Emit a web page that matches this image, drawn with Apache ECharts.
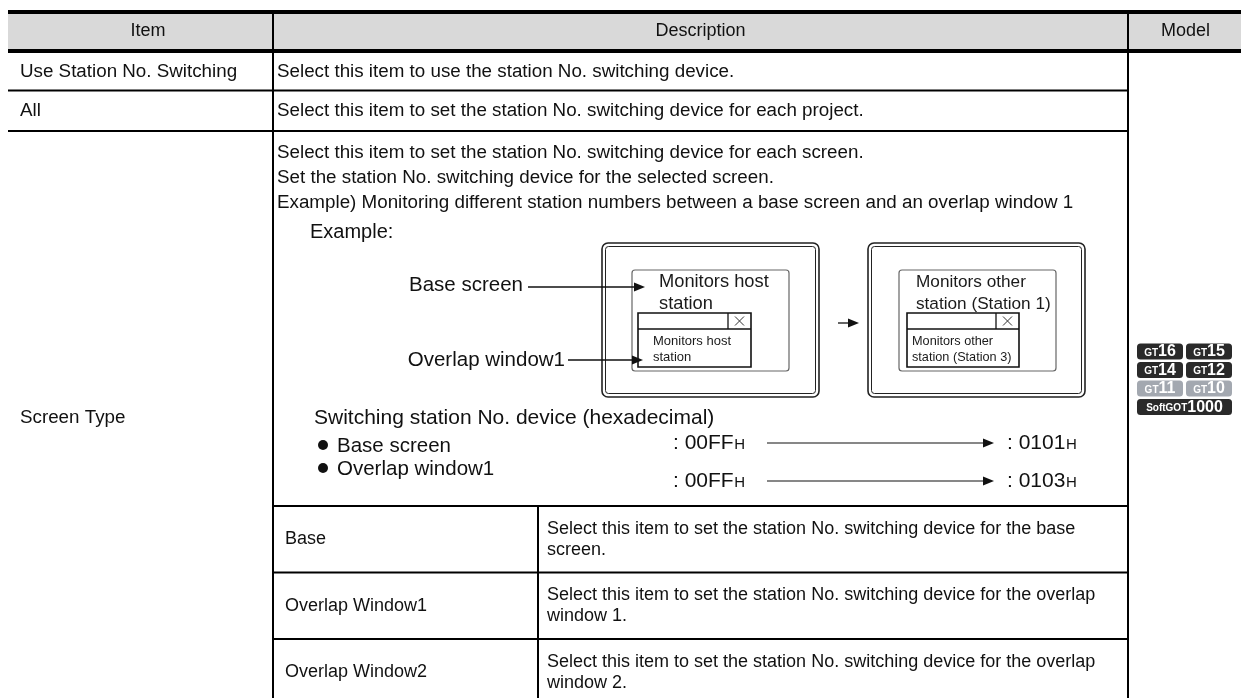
<!DOCTYPE html>
<html><head><meta charset="utf-8">
<script src="https://cdn.jsdelivr.net/npm/echarts@6/dist/echarts.min.js"></script>
<style>html,body{margin:0;padding:0;background:#fff}#c{width:1241px;height:698px}</style>
</head><body><div id="c"></div>
<script>
// ---------- content ----------
const headers = ['Item', 'Description', 'Model'];
const itemLabels = ['Use Station No. Switching', 'All', 'Screen Type'];
const itemDescriptions = [
  'Select this item to use the station No. switching device.',
  'Select this item to set the station No. switching device for each project.'
];
const screenTypeLines = [
  'Select this item to set the station No. switching device for each screen.',
  'Set the station No. switching device for the selected screen.',
  'Example) Monitoring different station numbers between a base screen and an overlap window 1'
];
const subLabels = ['Base', 'Overlap Window1', 'Overlap Window2'];
const subDescriptions = [
  ['Select this item to set the station No. switching device for the base', 'screen.'],
  ['Select this item to set the station No. switching device for the overlap', 'window 1.'],
  ['Select this item to set the station No. switching device for the overlap', 'window 2.']
];
const exampleTitle = 'Example:';
const calloutLabels = ['Base screen', 'Overlap window1'];
const screenTexts = [['Monitors host', 'station'], ['Monitors other', 'station (Station 1)']];
const windowTexts = [['Monitors host', 'station'], ['Monitors other', 'station (Station 3)']];
const hexTitle = 'Switching station No. device (hexadecimal)';
const hexTargets = ['Base screen', 'Overlap window1'];
const hexBefore = ['00FF', '00FF'];
const hexAfter = ['0101', '0103'];
const hexSuffix = 'H';
const badgeRows = [
  [['GT', '16', 1], ['GT', '15', 1]],
  [['GT', '14', 1], ['GT', '12', 1]],
  [['GT', '11', 0], ['GT', '10', 0]],
  [['SoftGOT', '1000', 1]]
];

// ---------- layout ----------
const FONT = '"Liberation Sans", Arial, Helvetica, sans-serif';
const fnt = (s, w) => (w ? w + ' ' : '') + s + 'px ' + FONT;
const mctx = document.createElement('canvas').getContext('2d');
const measure = (str, font) => { mctx.font = font; return mctx.measureText(str).width; };

const TL = 8, TR = 1241;
const colX = [273, 1128];
const topY = 12, headBotY = 51, rowY = [90.5, 131];
const subTop = 506, subPitch = 66.5, subDivX = 538;
const bottomY = subTop + 3 * subPitch;
const BODY = 18.8, SUB = 18, FIG = 20.5, SMALL = 13;
const INK = '#111';

const els = [];
function text(str, x, y, size, o = {}) {
  els.push({ type: 'text', silent: true, z: o.z || 20,
    style: { text: str, x, y, font: fnt(size, o.weight), fill: o.fill || INK,
      textAlign: o.align || 'left', textVerticalAlign: 'middle', align: o.align || 'left', verticalAlign: 'middle' } });
}
function line(x1, y1, x2, y2, w, c) {
  els.push({ type: 'line', silent: true, z: 15, shape: { x1, y1, x2, y2 }, style: { stroke: c || '#000', lineWidth: w } });
}
function rect(x, y, w, h, o = {}) {
  els.push({ type: 'rect', silent: true, z: o.z || 12, shape: { x, y, width: w, height: h, r: o.r || 0 },
    style: { fill: o.fill || 'none', stroke: o.stroke || null, lineWidth: o.lw || 0 } });
}
function arrow(x1, x2, y, lw) {
  line(x1, y, x2 - 8, y, lw || 1.3, '#111');
  els.push({ type: 'polygon', silent: true, z: 16, shape: { points: [[x2 - 11, y - 4.5], [x2, y], [x2 - 11, y + 4.5]] }, style: { fill: '#111' } });
}

// header
rect(TL, topY, TR - TL, headBotY - topY, { fill: '#d9d9d9', z: 5 });
line(TL, topY, TR, topY, 4);
line(TL, headBotY, TR, headBotY, 4);
text(headers[0], 148, 31.5, 18, { align: 'center' });
text(headers[1], (colX[0] + colX[1]) / 2, 31.5, 18, { align: 'center' });
text(headers[2], (colX[1] + TR) / 2 + 1, 31.5, 18, { align: 'center' });

// grid lines
line(colX[0], topY, colX[0], bottomY, 2);
line(colX[1], topY, colX[1], bottomY, 2);
rowY.forEach(y => line(TL, y, colX[1], y, 2.2));
for (let i = 0; i < 3; i++) line(colX[0], subTop + i * subPitch, colX[1], subTop + i * subPitch, 2.2);
line(subDivX, subTop, subDivX, bottomY, 2);

// items
const itemX = 20, descX = 277;
const rowCenters = [(headBotY + 2 + rowY[0]) / 2, (rowY[0] + rowY[1]) / 2, (rowY[1] + bottomY) / 2];
itemLabels.forEach((t, i) => text(t, itemX, rowCenters[i], BODY));
itemDescriptions.forEach((t, i) => text(t, descX, rowCenters[i], BODY));
screenTypeLines.forEach((t, i) => text(t, descX, 153 + i * 25, BODY));

// sub rows
subLabels.forEach((t, i) => {
  const top = subTop + i * subPitch;
  const mid = top + subPitch / 2;
  text(t, 285, mid, SUB);
  subDescriptions[i].forEach((s, j) => text(s, 547, mid - 10.5 + j * 21, SUB));
});

// example figure
text(exampleTitle, 310, 232, 20);
text(calloutLabels[0], 523, 285, FIG, { align: 'right' });
text(calloutLabels[1], 565, 360, FIG, { align: 'right' });
arrow(528, 645, 287);
arrow(568, 643, 360);
arrow(838, 859, 323);

const screens = [
  { x: 602, boxDx: 30, txtDx: 57, txtSize: 18.3, winDx: 36, winW: 113, smDx: 15, smSize: 13 },
  { x: 868, boxDx: 31, txtDx: 48, txtSize: 17.2, winDx: 39, winW: 112, smDx: 5, smSize: 12.7 }
];
const frameY = 243, frameW = 217, frameH = 154;
screens.forEach((s, i) => {
  rect(s.x, frameY, frameW, frameH, { stroke: '#222', lw: 1.6, r: 6 });
  rect(s.x + 3.5, frameY + 3.5, frameW - 7, frameH - 7, { stroke: '#222', lw: 1, r: 3 });
  const bx = s.x + s.boxDx, by = 270;
  rect(bx, by, 157, 101, { stroke: '#666', lw: 1.2, r: 3 });
  screenTexts[i].forEach((t, j) => text(t, s.x + s.txtDx, 282 + j * 22, s.txtSize, { fill: '#1a1a1a' }));
  const wx = s.x + s.winDx, wy = 313;
  rect(wx, wy, s.winW, 54, { stroke: '#111', lw: 1.6, fill: '#fff', z: 14 });
  line(wx, wy + 16, wx + s.winW, wy + 16, 1.3, '#111');
  line(wx + s.winW - 23, wy, wx + s.winW - 23, wy + 16, 1.3, '#111');
  const cx = wx + s.winW - 11.5, cy = wy + 8;
  line(cx - 4.5, cy - 4.5, cx + 4.5, cy + 4.5, 1, '#333');
  line(cx - 4.5, cy + 4.5, cx + 4.5, cy - 4.5, 1, '#333');
  windowTexts[i].forEach((t, j) => text(t, wx + s.smDx, 341 + j * 16.5, s.smSize, { fill: '#1a1a1a', z: 21 }));
});

// hex section
text(hexTitle, 314, 418, 21);
const hexY = [[446, 443], [469, 481]];
hexTargets.forEach((t, i) => {
  els.push({ type: 'circle', silent: true, z: 16, shape: { cx: 323, cy: hexY[i][0] - 1, r: 5 }, style: { fill: '#111' } });
  text(t, 337, hexY[i][0], FIG);
  const y = hexY[i][1];
  const a = ': ' + hexBefore[i];
  text(a, 673, y, 21);
  const aw = measure(a, fnt(21));
  text(hexSuffix, 673 + aw + 0.5, y + 1.5, 15);
  arrow(767, 994, y, 1.2);
  const b = ': ' + hexAfter[i];
  text(b, 1007, y, 21);
  text(hexSuffix, 1007 + measure(b, fnt(21)) + 0.5, y + 1.5, 15);
});

// model badges
const bX = 1137, bW = 46, bGap = 3, bH = 16, bPitch = 18.5;
const badgeCenterY = (headBotY + 2 + bottomY) / 2;
const bTop0 = badgeCenterY - (badgeRows.length * bPitch - (bPitch - bH)) / 2;
badgeRows.forEach((row, r) => {
  const y = bTop0 + r * bPitch;
  row.forEach((b, k) => {
    const w = row.length === 1 ? 2 * bW + bGap : bW;
    const x = bX + k * (bW + bGap);
    const fill = b[2] ? '#2a2a2a' : '#a3a8b0';
    rect(x, y, w, bH, { fill, r: 3.5, z: 30 });
    const f1 = fnt(10, 'bold'), f2 = fnt(16, 'bold');
    const w1 = measure(b[0], f1), w2 = measure(b[1], f2);
    const sx = x + (w - w1 - w2) / 2;
    els.push({ type: 'text', silent: true, z: 31, style: { text: b[0], x: sx, y: y + bH / 2 + 1.5, font: f1, fill: '#fff', textAlign: 'left', align: 'left', textVerticalAlign: 'middle', verticalAlign: 'middle' } });
    els.push({ type: 'text', silent: true, z: 31, style: { text: b[1], x: sx + w1, y: y + bH / 2 + 0.5, font: f2, fill: '#fff', textAlign: 'left', align: 'left', textVerticalAlign: 'middle', verticalAlign: 'middle' } });
  });
});

const chart = echarts.init(document.getElementById('c'), null, { renderer: 'canvas', width: 1241, height: 698 });
chart.setOption({ backgroundColor: '#fff', animation: false, graphic: { elements: els } });
</script>
</body></html>
